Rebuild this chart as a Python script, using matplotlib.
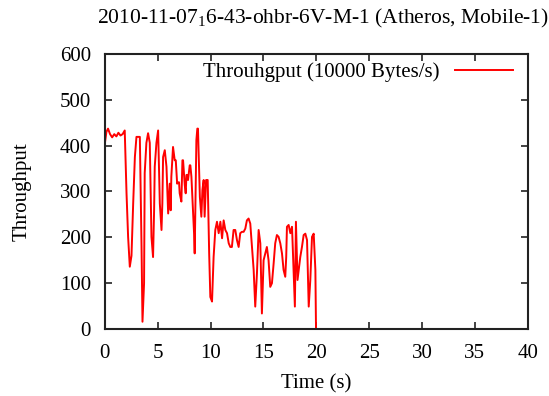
import matplotlib
matplotlib.use("Agg")
import matplotlib.pyplot as plt

plt.rcParams["font.family"] = ["Liberation Serif", "DejaVu Serif"]
plt.rcParams["mathtext.fontset"] = "custom"
plt.rcParams["mathtext.rm"] = "Liberation Serif"
plt.rcParams["mathtext.it"] = "Liberation Serif"

# Throughput samples (units of 10000 Bytes/s) against time in seconds
time_s = [
    0.0, 0.15, 0.3, 0.49, 0.69, 0.89, 1.09, 1.28, 1.48, 1.68, 1.88, 2.05, 2.2, 2.36,
    2.52, 2.68, 2.84, 2.99, 3.31, 3.47, 3.56, 3.71, 3.77, 3.93, 4.09, 4.25,
    4.41, 4.56, 4.66, 4.72, 4.88, 5.04, 5.2, 5.36, 5.44, 5.51, 5.67, 5.83,
    5.99, 6.14, 6.23, 6.29, 6.45, 6.61, 6.71, 6.84, 6.93, 7.02, 7.08, 7.24,
    7.34, 7.4, 7.56, 7.65, 7.72, 7.81, 7.87, 8.03, 8.09, 8.19, 8.34, 8.44,
    8.5, 8.66, 8.75, 8.81, 8.91, 8.99, 9.13, 9.23, 9.35, 9.44, 9.58, 9.73,
    9.87, 9.98, 10.14, 10.29, 10.45, 10.61, 10.77, 10.93, 11.09, 11.24,
    11.4, 11.56, 11.72, 11.87, 12.02, 12.18, 12.34, 12.5, 12.66, 12.81,
    12.97, 13.13, 13.29, 13.44, 13.6, 13.76, 13.92, 14.08, 14.23, 14.39,
    14.55, 14.71, 14.86, 15.02, 15.18, 15.33, 15.49, 15.65, 15.81, 15.97,
    16.12, 16.28, 16.44, 16.6, 16.76, 16.91, 17.07, 17.16, 17.23, 17.39,
    17.55, 17.71, 17.86, 17.98, 18.08, 18.23, 18.34, 18.49, 18.65, 18.81,
    18.97, 19.13, 19.29, 19.44, 19.6, 19.76, 19.92, 19.98,
]
throughput = [
    405, 430, 437, 425, 418, 425, 420, 428, 422, 425, 433, 296, 201, 136,
    160, 274, 375, 419, 419, 179, 16, 100, 340, 406, 427, 406, 201, 157,
    259, 354, 406, 433, 274, 216, 274, 375, 390, 354, 252, 317, 259, 332,
    397, 368, 368, 317, 320, 320, 296, 278, 368, 368, 314, 296, 336, 336,
    325, 357, 357, 332, 259, 209, 165, 412, 437, 437, 354, 288, 245, 303,
    325, 245, 325, 325, 165, 70, 60, 157, 216, 234, 209, 234, 198, 237,
    216, 209, 187, 179, 179, 216, 216, 194, 179, 209, 212, 212, 219, 237,
    241, 230, 179, 129, 49, 121, 216, 187, 34, 150, 165, 179, 150, 92, 100,
    143, 187, 205, 201, 187, 165, 129, 114, 157, 223, 227, 209, 223, 129,
    49, 234, 107, 129, 157, 179, 205, 208, 194, 49, 107, 201, 208, 129, 0,
]

x_ticks = list(range(0, 41, 5))
y_ticks = list(range(0, 601, 100))

fig = plt.figure(figsize=(5.49, 3.96), dpi=100)
ax = fig.add_axes([0.191, 0.169, 0.770, 0.695])

ax.plot(time_s, throughput, color="#ff0000", lw=1.4,
        label="Throuhgput (10000 Bytes/s)")

ax.set_xlim(0, 40)
ax.set_ylim(0, 600)
ax.set_xticks(x_ticks)
ax.set_yticks(y_ticks)
ax.tick_params(direction="in", length=5, width=1.2, top=True, right=True,
               labelsize=15, color="#222222")
ax.tick_params(axis="x", pad=11)
ax.tick_params(axis="y", pad=10)
for s in ax.spines.values():
    s.set_linewidth(1.5)
    s.set_color("#222222")

ax.set_xlabel("Time (s)", fontsize=15, labelpad=8)
ax.set_ylabel("Throughput", fontsize=15, labelpad=20)
ax.set_title("2010-11-07$_1$6-43-ohbr-6V-M-1 (Atheros, Mobile-1)",
             fontsize=15.5, pad=22, x=0.515)

ax.legend(loc="upper right", bbox_to_anchor=(0.985, 1.0), frameon=False,
          markerfirst=False, fontsize=15, handlelength=2.8, borderaxespad=0.0,
          handletextpad=0.7)

fig.savefig("out.png", dpi=100)
